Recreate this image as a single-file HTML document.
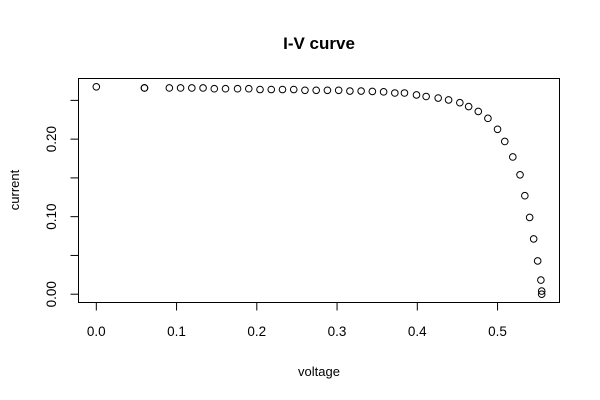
<!DOCTYPE html>
<html><head><meta charset="utf-8"><style>
html,body{margin:0;padding:0;background:#fff;}
svg{display:block;font-family:"Liberation Sans",Arial,sans-serif;}
</style></head><body>
<svg id="chart" width="600" height="400" viewBox="0 0 600 400" xmlns="http://www.w3.org/2000/svg">
<text x="319" y="49" text-anchor="middle" font-size="17" font-weight="bold">I-V curve</text>
<text x="319" y="376" text-anchor="middle" font-size="13">voltage</text>
<text transform="translate(19,190) rotate(-90)" text-anchor="middle" font-size="13">current</text>
<rect x="78.5" y="78.5" width="481" height="224" fill="none" stroke="#000" stroke-width="1"/>
<g id="xaxis"></g>
<g id="yaxis"></g>
<g id="pts"></g>
</svg>
<script>
const voltage = [0.000,0.060,0.060,0.091,0.105,0.119,0.133,0.147,0.161,0.176,0.190,0.204,0.218,0.232,0.246,0.260,0.274,0.288,0.302,0.316,0.330,0.344,0.358,0.372,0.384,0.399,0.411,0.426,0.439,0.453,0.464,0.476,0.488,0.500,0.509,0.519,0.528,0.534,0.540,0.545,0.550,0.554,0.555,0.555];
const current = [0.2675,0.266,0.266,0.266,0.266,0.266,0.266,0.265,0.265,0.265,0.265,0.264,0.264,0.264,0.264,0.263,0.263,0.263,0.263,0.262,0.262,0.2615,0.261,0.2595,0.2595,0.257,0.255,0.253,0.2506,0.247,0.242,0.2357,0.2268,0.2127,0.197,0.177,0.154,0.127,0.099,0.0713,0.0429,0.0182,0.004,0.0];
const xTicks = [0.0,0.1,0.2,0.3,0.4,0.5];
const xTickLabels = ["0.0","0.1","0.2","0.3","0.4","0.5"];
const yTicks = [0.00,0.05,0.10,0.15,0.20,0.25];
const yTickLabels = ["0.00","","0.10","","0.20",""];

const NS="http://www.w3.org/2000/svg";
const box={l:78.5,r:559.5,t:78.5,b:302.5};
const xmin0=Math.min(...voltage), xmax0=Math.max(...voltage);
const ymin0=Math.min(...current), ymax0=Math.max(...current);
const xpad=(xmax0-xmin0)*0.04, ypad=(ymax0-ymin0)*0.04;
const xlo=xmin0-xpad, xhi=xmax0+xpad, ylo=ymin0-ypad, yhi=ymax0+ypad;
function sx(v){return box.l+(v-xlo)/(xhi-xlo)*(box.r-box.l);}
function sy(v){return box.b-(v-ylo)/(yhi-ylo)*(box.b-box.t);}
function mk(tag,attrs,parent){const e=document.createElementNS(NS,tag);for(const k in attrs)e.setAttribute(k,attrs[k]);parent.appendChild(e);return e;}

const xa=document.getElementById('xaxis');
const xl=mk('line',{x1:sx(xTicks[0]),x2:sx(xTicks[xTicks.length-1]),y1:box.b,y2:box.b,stroke:'#000'},xa);


xTicks.forEach((t,i)=>{
  const tk=mk('line',{x1:sx(t),x2:sx(t),y1:box.b,y2:box.b+8,stroke:'#000'},xa);
  
  
  const lb=mk('text',{x:sx(t),y:336,'text-anchor':'middle','font-size':'13.5'},xa);
  lb.textContent=xTickLabels[i];
  
  
});

const ya=document.getElementById('yaxis');
const yl=mk('line',{x1:box.l,x2:box.l,y1:sy(yTicks[0]),y2:sy(yTicks[yTicks.length-1]),stroke:'#000'},ya);


yTicks.forEach((t,i)=>{
  const y=sy(t);
  const tk=mk('line',{x1:box.l-8,x2:box.l,y1:y,y2:y,stroke:'#000'},ya);
  
  
  if(yTickLabels[i]){
    const lb=mk('text',{transform:`translate(56,${y}) rotate(-90)`,'text-anchor':'middle','font-size':'13.5'},ya);
    lb.textContent=yTickLabels[i];
    
    
  }
});

const pg=document.getElementById('pts');
voltage.forEach((v,i)=>{
  const c=mk('circle',{cx:sx(v),cy:sy(current[i]),r:3.3,fill:'none',stroke:'#000','stroke-width':'1'},pg);
  
  
});
</script>
</body></html>
